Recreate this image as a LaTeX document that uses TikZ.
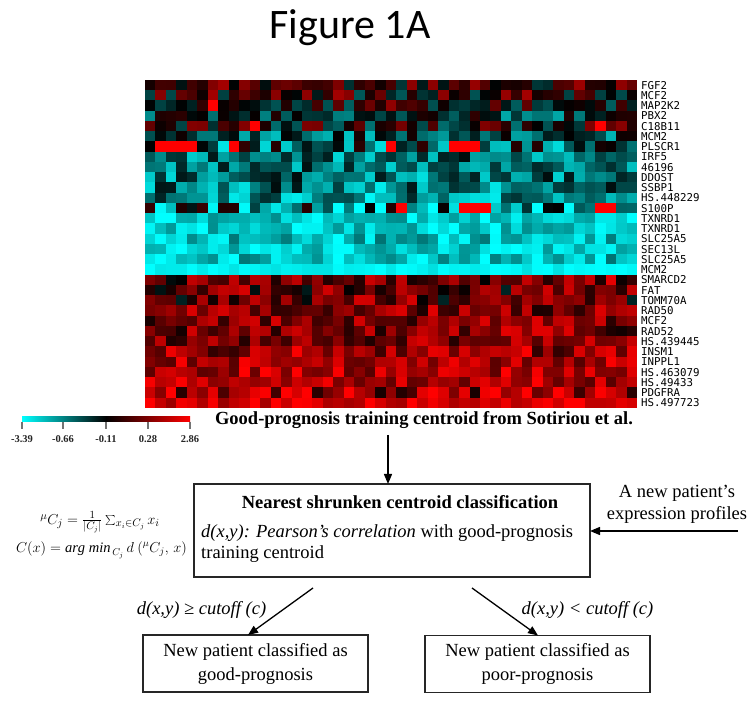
\documentclass[tikz,border=0pt]{standalone}
\usepackage{fontspec}
\setmainfont{Liberation Serif}
\newfontfamily\titlefont{Carlito}
\newfontfamily\genefont{DejaVu Sans Mono}
\usetikzlibrary{arrows.meta}
\definecolor{hcyan}{rgb}{0,1,1}
\definecolor{hred}{rgb}{1,0,0}
\definecolor{hblk}{rgb}{0,0,0}
\tikzset{
  box/.style={draw=black!85, line width=1.3pt, outer sep=0pt, inner sep=0pt},
  arr/.style={line width=1.3pt, -{Triangle[length=10pt,width=8pt]}},
  txt/.style={font=\fontsize{18.5}{21}\selectfont, inner sep=0pt},
  gene/.style={font=\genefont\fontsize{10.8}{11}\selectfont, anchor=west, inner sep=0pt},
  tick/.style={draw=black!55, line width=1.2pt},
  cbl/.style={font=\bfseries\fontsize{10.5}{12}\selectfont, inner sep=0pt, text=black!85}
}
\begin{document}
\begin{tikzpicture}[x=1pt,y=-1pt]
\useasboundingbox (0,0) rectangle (756,703);
\fill[white] (0,0) rectangle (756,703);
% title
\node[font=\titlefont\fontsize{42}{50}\selectfont] (title) at (350,28) {Figure 1A};
% heatmap
\pgfmathsetseed{7}
\foreach \m/\s [count=\r from 0] in {0.15/0.5,0.15/0.5,0.1/0.5,-0.25/0.45,0.05/0.5,-0.35/0.45,-0.35/0.55,-0.45/0.4,-0.45/0.4,-0.45/0.45,-0.5/0.45,-0.55/0.45,-0.45/0.7,-0.8/0.25,-0.8/0.25,-0.75/0.3,-0.8/0.25,-0.75/0.3,-0.95/0.08,0.45/0.5,0.35/0.5,0.35/0.5,0.5/0.4,0.5/0.4,0.45/0.45,0.5/0.4,0.6/0.4,0.65/0.35,0.7/0.35,0.7/0.35,0.6/0.55,0.85/0.25}{
  \foreach \c in {0,...,46}{
    \pgfmathsetmacro\v{max(-1,min(1,\m+\s*rand))}
    \pgfmathsetmacro\p{int(abs(\v)*100)}
    \ifdim\v pt<0pt \def\hc{hcyan}\else\def\hc{hred}\fi
    \fill[\hc!\p!hblk] (145+\c*10.468,80+\r*10.25) rectangle ++(10.6,10.4);
  }
}
\foreach \r/\c in {6/1,6/2,6/3,6/4,6/8,6/23,6/29,6/30,6/31,12/24,12/30,12/31,12/32,12/43,12/44,2/6,4/10,4/43}{
  \fill[hred] (145+\c*10.468,80+\r*10.25) rectangle ++(10.6,10.4);
}
% gene labels
\foreach \g [count=\r from 0] in {FGF2,MCF2,MAP2K2,PBX2,C18B11,MCM2,PLSCR1,IRF5,46196,DDOST,SSBP1,HS.448229,S100P,TXNRD1,TXNRD1,SLC25A5,SEC13L,SLC25A5,MCM2,SMARCD2,FAT,TOMM70A,RAD50,MCF2,RAD52,HS.439445,INSM1,INPPL1,HS.463079,HS.49433,PDGFRA,HS.497723}{
  \node[gene] (g\r) at (641,85.2+\r*10.25) {\g};
}
% colour bar
\shade[left color=hcyan, right color=hred, middle color=hblk] (22,417) rectangle (190,422);
\foreach \x/\l [count=\i] in {22/-3.39,63/-0.66,106/-0.11,148/0.28,190/2.86}{
  \draw[tick] (\x,422) -- (\x,429);
  \node[cbl] (cb\i) at (\x,439) {\l};
}
% caption
\node[txt, font=\bfseries\fontsize{18.5}{21}\selectfont] (cap) at (424,420) {Good-prognosis training centroid from Sotiriou et al.};
% main box
\node[box, minimum width=396pt, minimum height=93pt] (main) at (392,530.5) {};
\node[txt, font=\bfseries\fontsize{18.5}{21}\selectfont] (head) at (400,502) {Nearest shrunken centroid classification};
\node[txt, anchor=west] (l2) at (201,533) {\textit{d(x,y): Pearson’s correlation} with good-prognosis};
\node[txt, anchor=west] (l3) at (201,554) {training centroid};
\coordinate (a1) at (388,435);
\draw[arr] (a1) -- (a1 |- main.north);
% formulas
\node[inner sep=0pt, font=\fontsize{15}{17}\selectfont] (f1) at (100,522) {${}^{\mu}C_j = \frac{1}{|C_j|}\sum_{x_i\in C_j} x_i$};
\node[inner sep=0pt, font=\fontsize{14.5}{16}\selectfont] (f2) at (101.5,550) {$C(x) = \mathit{arg\ min}_{\,C_j}\, d\ ({}^{\mu}C_j,\, x)$};
% new patient
\node[txt, align=center, font=\fontsize{18.5}{22}\selectfont] (newp) at (677,504) {A new patient’s\\expression profiles};
\coordinate (np) at (738,531);
\draw[arr] (np) -- (np -| main.east);
% bottom boxes
\node[box, minimum width=225pt, minimum height=57pt, align=center, font=\fontsize{18.5}{24}\selectfont] (good) at (255.5,663.5) {New patient classified as\\good-prognosis};
\node[box, minimum width=225pt, minimum height=57pt, align=center, font=\fontsize{18.5}{24}\selectfont] (poor) at (537.5,664) {New patient classified as\\poor-prognosis};
\coordinate (s1) at (313,588);
\coordinate (s2) at (472,588);
\draw[arr] (s1) -- (248,635);
\draw[arr] (s2) -- (538,635.5);
\node[txt, font=\itshape\fontsize{18.5}{21}\selectfont] (c1) at (201.5,610) {d(x,y) ≥ cutoff (c)};
\node[txt, font=\itshape\fontsize{18.5}{21}\selectfont] (c2) at (587.5,610) {d(x,y) < cutoff (c)};
\end{tikzpicture}
\end{document}
